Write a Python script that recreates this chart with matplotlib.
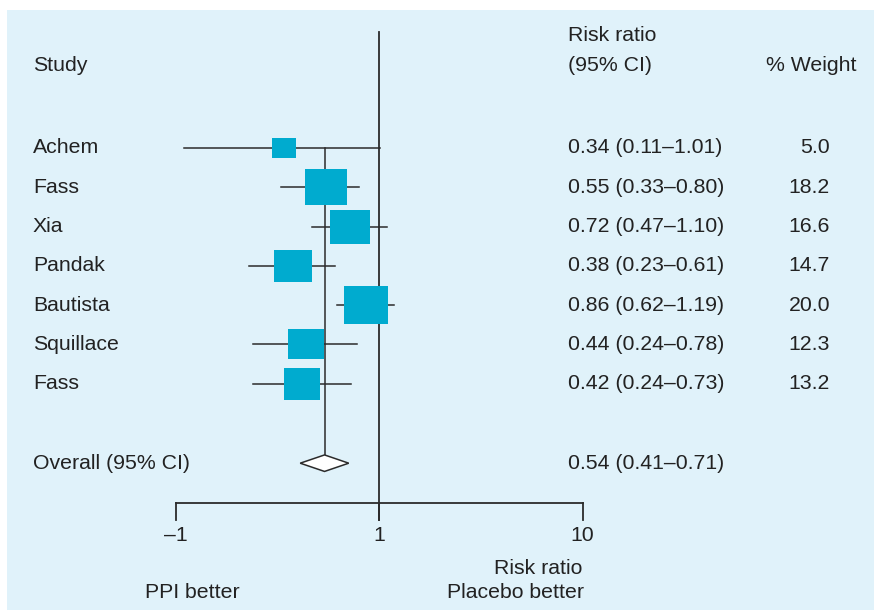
import numpy as np
import matplotlib.pyplot as plt
from matplotlib.path import Path
from matplotlib.patches import Rectangle, Polygon
from matplotlib.transforms import blended_transform_factory

# study data
studies = ["Achem", "Fass", "Xia", "Pandak", "Bautista", "Squillace", "Fass"]
rr = [0.34, 0.55, 0.72, 0.38, 0.86, 0.44, 0.42]
ci_low = [0.11, 0.33, 0.47, 0.23, 0.62, 0.24, 0.24]
ci_high = [1.01, 0.80, 1.10, 0.61, 1.19, 0.78, 0.73]
weights = [5.0, 18.2, 16.6, 14.7, 20.0, 12.3, 13.2]

overall_rr = 0.54
overall_low = 0.41
overall_high = 0.71

tick_vals = [0.1, 1, 10]
tick_labels = ["\u20131", "1", "10"]

plt.rcParams["font.family"] = ["Liberation Sans", "DejaVu Sans"]
FS = 15.3
TXT = "#222222"
LINE = "#2b2b2b"
BOX = "#00abcf"

W, H = 874, 610
fig = plt.figure(figsize=(W / 100, H / 100), dpi=100)
fig.patches.append(Rectangle((7 / W, 0), 1 - 7 / W, 1 - 10 / H, transform=fig.transFigure,
                             facecolor="#e0f2fa", edgecolor="none", zorder=-1))

ax = fig.add_axes([0, 0, 1, 1])
ax.set_xscale("log")
# 1 at 379 px, 203.5 px per decade
ax.set_xlim(10 ** (-379 / 203.5), 10 ** ((W - 379) / 203.5))
row_h = 39.3
ax.set_ylim((H - 148) / row_h, -148 / row_h)
ax.axis("off")
ax.patch.set_alpha(0)

rows = np.arange(len(studies))
overall_row = 8.02
axis_row = 9.03
dy = 0.0  # text nudge relative to row line

# line of no effect
ax.plot([1, 1], [-2.95, 9.47], color=LINE, lw=1.3, zorder=2)
# overall estimate line
ax.plot([overall_rr, overall_rr], [0, overall_row - 0.21], color=LINE, lw=1.1, zorder=2)

# CIs
for y, lo, hi in zip(rows, ci_low, ci_high):
    ax.plot([lo, hi], [y, y], color=LINE, lw=1.1, zorder=2)

# boxes (slightly wider than tall)
box = Path([(-1, -0.87), (1, -0.87), (1, 0.87), (-1, 0.87), (-1, -0.87)],
           [Path.MOVETO, Path.LINETO, Path.LINETO, Path.LINETO, Path.CLOSEPOLY])
for y, est, w in zip(rows, rr, weights):
    ax.plot([est], [y], marker=box, markersize=8.8 * w ** 0.42, color=BOX,
            markeredgewidth=0, linestyle="none", zorder=3)

# overall diamond
ax.add_patch(Polygon([(overall_low, overall_row), (overall_rr, overall_row - 0.21),
                      (overall_high, overall_row), (overall_rr, overall_row + 0.21)],
                     closed=True, facecolor="white", edgecolor=LINE, lw=1.1, zorder=3))

# x axis
ax.plot([tick_vals[0], tick_vals[-1]], [axis_row, axis_row], color=LINE, lw=1.3, zorder=2)
for t, lab in zip(tick_vals, tick_labels):
    ax.plot([t, t], [axis_row, 9.47], color=LINE, lw=1.3, zorder=2)
    ax.text(t, 9.85, lab, ha="center", va="center", fontsize=FS, color=TXT)

ax.text(tick_vals[-1], 10.69, "Risk ratio", ha="right", va="center", fontsize=FS, color=TXT)
ax.text(10.2, 11.3, "Placebo better", ha="right", va="center", fontsize=FS, color=TXT)
ax.text(0.121, 11.3, "PPI better", ha="center", va="center", fontsize=FS, color=TXT)

# text columns
tr = blended_transform_factory(fig.transFigure, ax.transData)
x_study, x_ci, x_wt = 33 / W, 568 / W, 830 / W
ax.text(x_study, -2.09, "Study", transform=tr, ha="left", va="center", fontsize=FS, color=TXT)
ax.text(x_ci, -2.86, "Risk ratio", transform=tr, ha="left", va="center", fontsize=FS, color=TXT)
ax.text(x_ci, -2.09, "(95% CI)", transform=tr, ha="left", va="center", fontsize=FS, color=TXT)
ax.text(857 / W, -2.09, "% Weight", transform=tr, ha="right", va="center", fontsize=FS, color=TXT)

for y, name, est, lo, hi, w in zip(rows, studies, rr, ci_low, ci_high, weights):
    ax.text(x_study, y + dy, name, transform=tr, ha="left", va="center", fontsize=FS, color=TXT)
    ax.text(x_ci, y + dy, f"{est:.2f} ({lo:.2f}\u2013{hi:.2f})", transform=tr,
            ha="left", va="center", fontsize=FS, color=TXT)
    ax.text(x_wt, y + dy, f"{w:.1f}", transform=tr, ha="right", va="center", fontsize=FS, color=TXT)

ax.text(x_study, overall_row + dy, "Overall (95% CI)", transform=tr, ha="left", va="center",
        fontsize=FS, color=TXT)
ax.text(x_ci, overall_row + dy, f"{overall_rr:.2f} ({overall_low:.2f}\u2013{overall_high:.2f})",
        transform=tr, ha="left", va="center", fontsize=FS, color=TXT)

fig.savefig("out.png", dpi=100)
